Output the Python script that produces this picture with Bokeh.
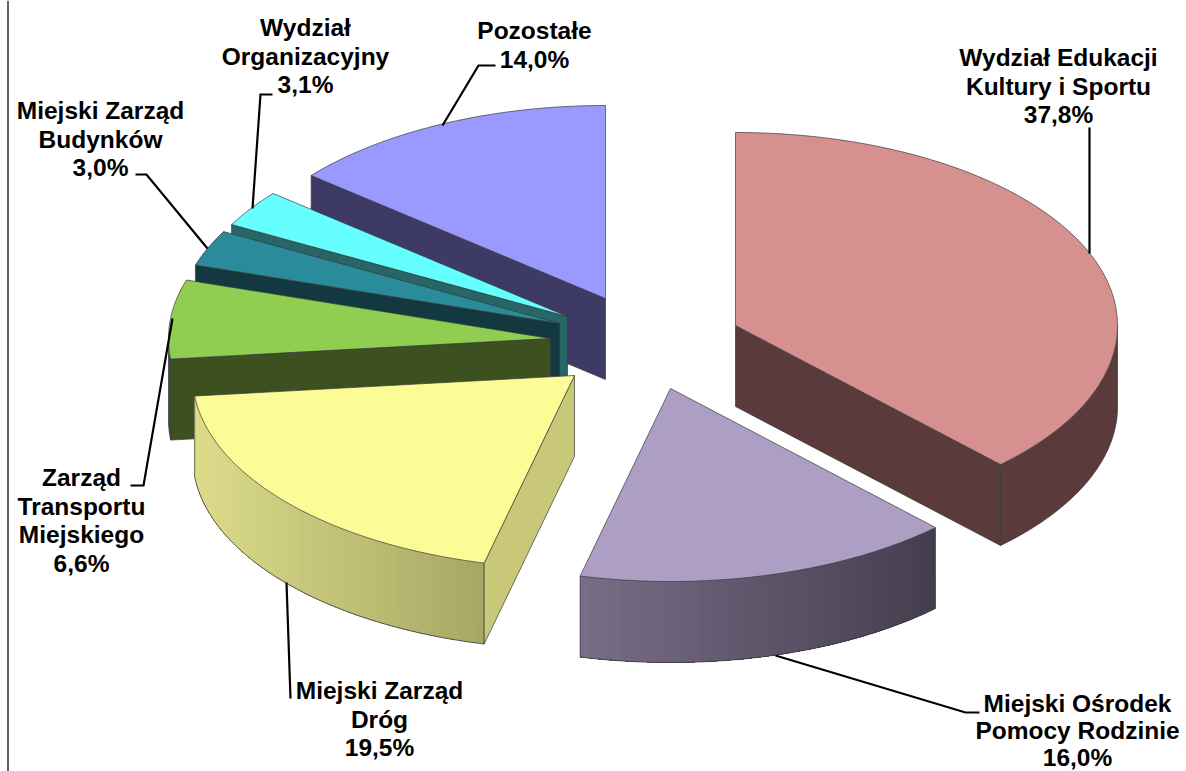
import math
from bokeh.embed import file_html
from bokeh.models import Range1d
from bokeh.plotting import figure
from bokeh.resources import INLINE
from bokeh.core.properties import value

# ---- data ----
categories = ["Wydział Edukacji Kultury i Sportu", "Miejski Ośrodek Pomocy Rodzinie",
              "Miejski Zarząd Dróg", "Zarząd Transportu Miejskiego",
              "Miejski Zarząd Budynków", "Wydział Organizacyjny", "Pozostałe"]
shares = [37.8, 16.0, 19.5, 6.6, 3.0, 3.1, 14.0]
label_lines = [["Wydział Edukacji", "Kultury i Sportu", "37,8%"],
               ["Miejski Ośrodek", "Pomocy Rodzinie", "16,0%"],
               ["Miejski Zarząd", "Dróg", "19,5%"],
               ["Zarząd", "Transportu", "Miejskiego", "6,6%"],
               ["Miejski Zarząd", "Budynków", "3,0%"],
               ["Wydział", "Organizacyjny", "3,1%"],
               ["Pozostałe", "14,0%"]]

# ---- styling / layout ----
W, H = 1186, 771
RX, RY, DEPTH = 382.0, 193.0, 81.0
apex_x = [735, 670, 574, 550, 559, 567, 605]
apex_y = [325, 388, 375, 338, 323, 316, 298]
top_colors = ["#d69090", "#ad9fc4", "#fcfc96", "#8fce50", "#2a8b9a", "#66ffff", "#9999ff"]
face_colors = ["#5a3a3a", "#453e4f", "#c8c878", "#3c5020", "#123840", "#266666", "#3d3a66"]
rim_left = ["#5a3a3a", "#7a6e88", "#dcdc8a", "#3c5020", "#123840", "#266666", "#3d3a66"]
rim_right = ["#5a3a3a", "#453e4f", "#a8a866", "#3c5020", "#123840", "#266666", "#3d3a66"]
label_x = [1058, 1077, 379, 81, 100, 305, 534]
label_y0 = [57, 703, 690, 477, 110, 27, 30]
label_step = [28.5, 27, 28.5, 28.5, 28.5, 28.5, 28.5]
leaders = [([1089, 1089], [127, 253]),
           ([775, 965, 979], [655, 712, 712]),
           ([286, 290], [582, 698]),
           ([172, 143, 130], [318, 485, 485]),
           ([135, 146, 207], [174, 174, 248]),
           ([272, 260, 252], [94, 94, 208]),
           ([495, 478, 442], [65, 65, 125])]
EDGE = "#3a3a3a"

p = figure(width=W, height=H, output_backend="svg", toolbar_location=None,
           x_range=Range1d(0, W), y_range=Range1d(H, 0),
           min_border=0, background_fill_color="white", border_fill_color="white",
           outline_line_color=None)
p.axis.visible = False
p.grid.visible = False


def mix(c1, c2, t):
    a = [int(c1[i:i + 2], 16) for i in (1, 3, 5)]
    b = [int(c2[i:i + 2], 16) for i in (1, 3, 5)]
    return "#%02x%02x%02x" % tuple(round(u + (v - u) * t) for u, v in zip(a, b))


def pt(cx, cy, deg):
    r = math.radians(deg)
    return cx + RX * math.sin(r), cy - RY * math.cos(r)


def arc(cx, cy, a, b, n=None):
    n = n or max(2, int(abs(b - a) * 1.5))
    return [pt(cx, cy, a + (b - a) * i / n) for i in range(n + 1)]


# frame line on the left
p.line([7.5, 7.5], [0, H], line_color="#606060", line_width=2)

total = sum(shares)
spans = []
acc = 0.0
for s in shares:
    spans.append((acc / total * 360, (acc + s) / total * 360))
    acc += s

# back to front
order = [6, 5, 4, 3, 2, 0, 1]
for i in order:
    a, b = spans[i]
    cx, cy = apex_x[i], apex_y[i]
    # outer rim (front half only)
    ra, rb = max(a, 90), min(b, 270)
    if ra < rb:
        pts = arc(cx, cy, ra, rb)
        xs = [q[0] for q in pts]
        ys = [q[1] for q in pts]
        xmin, xmax = min(xs), max(xs)
        if rim_left[i] == rim_right[i]:
            p.patch(xs + xs[::-1], ys + [y + DEPTH for y in ys[::-1]],
                    fill_color=rim_left[i], line_color=None)
        else:
            # colour bands, each one covering the rest of the rim so no seams show
            nb = 48
            for k in range(nb):
                j0 = int(k * (len(pts) - 1) / nb)
                t = (xs[j0] - xmin) / max(xmax - xmin, 1)
                col = mix(rim_left[i], rim_right[i], t)
                sx = xs[j0:]
                sy = ys[j0:]
                p.patch(sx + sx[::-1], sy + [y + DEPTH for y in sy[::-1]],
                        fill_color=col, line_color=None)
        p.line(xs, [y + DEPTH for y in ys], line_color=EDGE, line_width=0.8)
        for x_, y_ in (pts[0], pts[-1]):
            p.line([x_, x_], [y_, y_ + DEPTH], line_color=EDGE, line_width=0.7)
    # cut faces
    faces = []
    if 180 < a < 360:
        faces.append(a)
    if 0 < b < 180:
        faces.append(b)
    for f in faces:
        ex, ey = pt(cx, cy, f)
        p.patch([cx, ex, ex, cx], [cy, ey, ey + DEPTH, cy + DEPTH],
                fill_color=face_colors[i], line_color=EDGE, line_width=0.7)
    # top
    pts = arc(cx, cy, a, b)
    p.patch([cx] + [q[0] for q in pts], [cy] + [q[1] for q in pts],
            fill_color=top_colors[i], line_color=EDGE, line_width=0.7)

# leaders + labels
for xs, ys in leaders:
    p.line(xs, ys, line_color="black", line_width=2.2, line_join="miter")

for i, lines in enumerate(label_lines):
    for k, t in enumerate(lines):
        p.text([label_x[i]], [label_y0[i] + k * label_step[i]], text=[t],
               text_font=value("Liberation Sans"), text_font_style="bold",
               text_font_size="24.5px", text_color="black",
               text_align="center", text_baseline="middle")

open("out.html", "w").write(file_html(p, INLINE))
